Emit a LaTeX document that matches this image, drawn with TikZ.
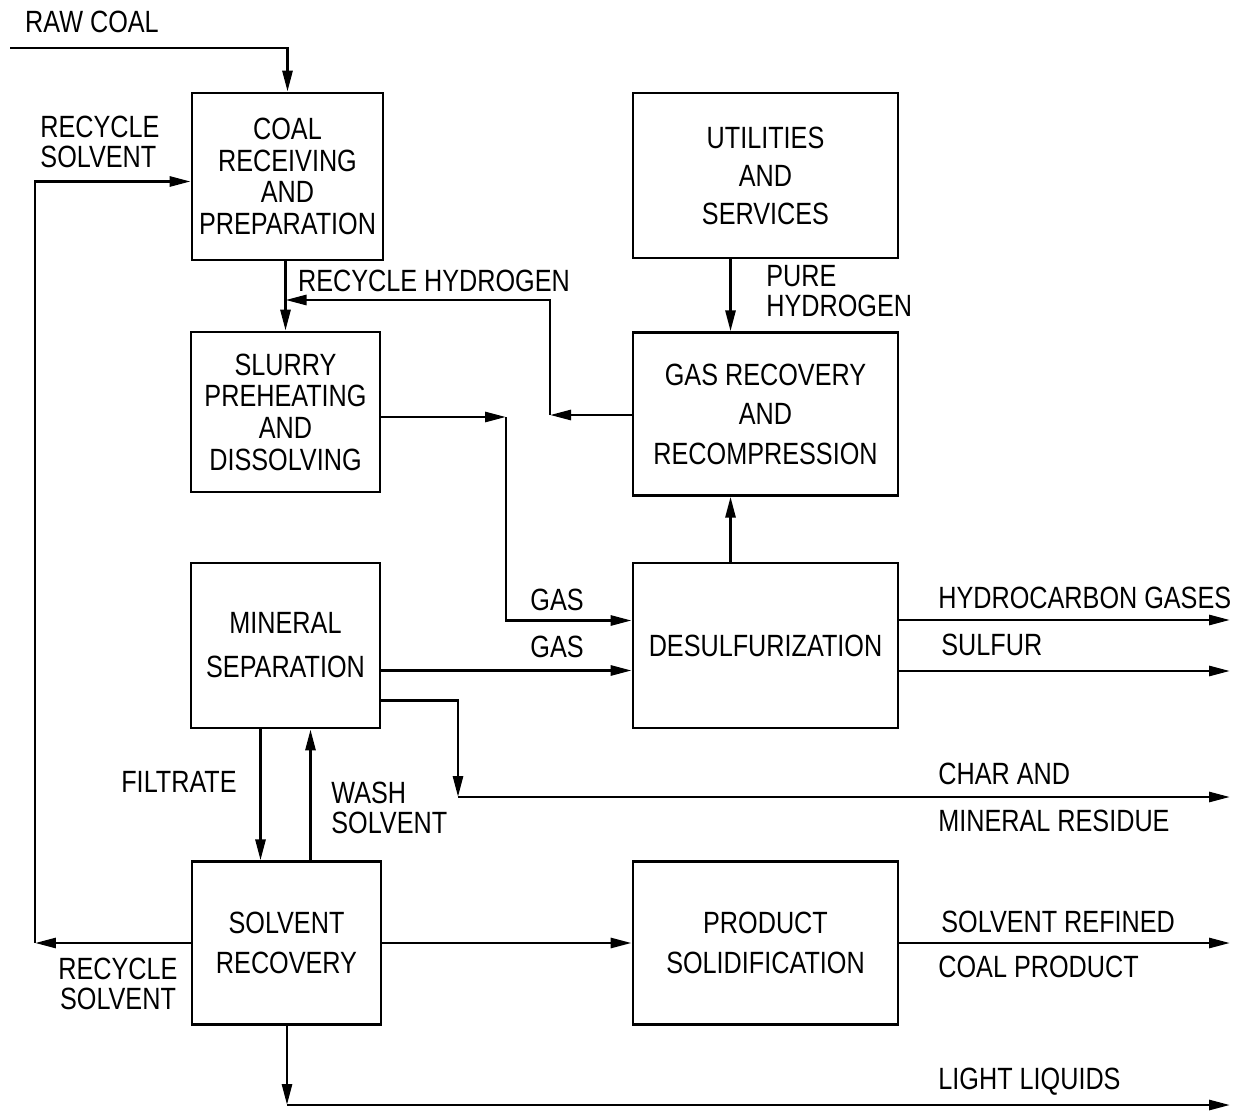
\documentclass[tikz,border=0pt]{standalone}
\usepackage{fontspec}
\setmainfont{Liberation Sans}[FakeStretch=0.82]
\usepackage{tikz}
\usetikzlibrary{arrows.meta}
\newcommand\lblfont{\fontsize{17.5}{18}\selectfont}

\begin{document}
\begin{tikzpicture}[x=0.02cm, y=-0.02cm, line width=1.6pt,
    every node/.style={font=\lblfont, inner sep=0pt},
    unit/.style={draw, align=center, minimum height=3.25cm},
    narrow/.style={unit, minimum width=3.78cm},
    wide/.style={unit, minimum width=5.3cm},
    flow/.style={-{Triangle[length=0.42cm, width=0.2cm]}}]
    \useasboundingbox (0,0) rectangle (1233,1111);

    % process units
    \node[narrow, minimum width=3.82cm, minimum height=3.34cm] (coal) at (287.5,176.5)
      {COAL\\RECEIVING\\AND\\PREPARATION};
    \node[wide, minimum height=3.3cm] (util) at (765.5,175.5)
      {UTILITIES\\[3.6pt]AND\\[3.6pt]SERVICES};
    \node[narrow, minimum height=3.2cm] (slurry) at (285.5,412)
      {SLURRY\\PREHEATING\\AND\\DISSOLVING};
    \node[wide] (gasrec) at (765.5,414)
      {GAS RECOVERY\\[4.5pt]AND\\[4.5pt]RECOMPRESSION};
    \node[narrow, minimum height=3.3cm] (minsep) at (285.5,645.5)
      {MINERAL\\[7pt]SEPARATION};
    \node[wide, minimum height=3.3cm] (desulf) at (765.5,645.5) {DESULFURIZATION};
    \node[narrow] (solrec) at (286.5,943) {SOLVENT\\[4.5pt]RECOVERY};
    \node[wide] (prod) at (765.5,943) {PRODUCT\\[4.5pt]SOLIDIFICATION};

    % free ends
    \coordinate (rawin) at (10,48);
    \coordinate (rsc) at (35,943);
    \coordinate (rh) at (550,415);
    \coordinate (rhtop) at (550,300);
    \coordinate (sg) at (506,417);
    \coordinate (chc) at (458,797);
    \coordinate (llc) at (287,1105);
    \coordinate (hcout) at (1230,620);
    \coordinate (suout) at (1230,671);
    \coordinate (chout) at (1230,797);
    \coordinate (spout) at (1230,943);
    \coordinate (llout) at (1230,1105);

    % connectors
    \draw[flow] (rawin) -| (coal.north);
    \draw[flow] (solrec.west) -- (rsc);
    \draw[flow] (rsc) |- ([yshift=-0.1cm]coal.west);
    \draw[flow] (coal.south -| slurry.north) -- (slurry.north);
    \draw[flow] (gasrec.west |- rh) -- (rh);
    \draw[flow] (rh) -- (rhtop) -- (slurry.north |- rhtop);
    \draw[flow] ([xshift=-0.7cm]util.south) -- ([xshift=-0.7cm]gasrec.north);
    \draw[flow] (slurry.east |- sg) -- (sg);
    \draw[flow] (sg) |- ([yshift=0.5cm]desulf.west);
    \draw[flow] ([yshift=-0.5cm]minsep.east) -- ([yshift=-0.5cm]desulf.west);
    \draw[flow] ([xshift=-0.7cm]desulf.north) -- ([xshift=-0.7cm]gasrec.south);
    \draw[flow] (desulf.east |- hcout) -- (hcout);
    \draw[flow] (desulf.east |- suout) -- (suout);
    \draw[flow] ([yshift=-1.1cm]minsep.east) -| (chc);
    \draw[flow] (chc) -- (chout);
    \draw[flow] ([xshift=-0.5cm]minsep.south) -- ([xshift=-0.5cm]minsep.south |- solrec.north);
    \draw[flow] ([xshift=0.5cm]minsep.south |- solrec.north) -- ([xshift=0.5cm]minsep.south);
    \draw[flow] (solrec.east) -- (prod.west);
    \draw[flow] (prod.east) -- (spout);
    \draw[flow] (solrec.south -| llc) -- (llc);
    \draw[flow] (llc) -- (llout);

    % stream labels
    \node (rawlbl) at (92,22) {RAW COAL};
    \node[align=left] (rstop) at (100,142) {RECYCLE\\[-1pt]SOLVENT};
    \node (rhlbl) at (434,281) {RECYCLE HYDROGEN};
    \node[align=left, anchor=west] (phlbl) at (765,291) {PURE\\[-1pt]HYDROGEN};
    \node (gas1) at (557,600) {GAS};
    \node (gas2) at (557,647) {GAS};
    \node[anchor=west] (hclbl) at (937,598) {HYDROCARBON GASES};
    \node[anchor=west] (sulbl) at (940,645) {SULFUR};
    \node[anchor=west] (ch1lbl) at (937,774) {CHAR AND};
    \node[anchor=west] (ch2lbl) at (937,821) {MINERAL RESIDUE};
    \node (filtlbl) at (179,782) {FILTRATE};
    \node[align=left, anchor=west] (washlbl) at (330,808) {WASH\\[-1pt]SOLVENT};
    \node[align=center] (rsbot) at (118,984) {RECYCLE\\[-1pt]SOLVENT};
    \node[anchor=west] (sp1lbl) at (940,922) {SOLVENT REFINED};
    \node[anchor=west] (sp2lbl) at (937,967) {COAL PRODUCT};
    \node[anchor=west] (lllbl) at (937,1082) {LIGHT LIQUIDS};
\end{tikzpicture}
\end{document}
